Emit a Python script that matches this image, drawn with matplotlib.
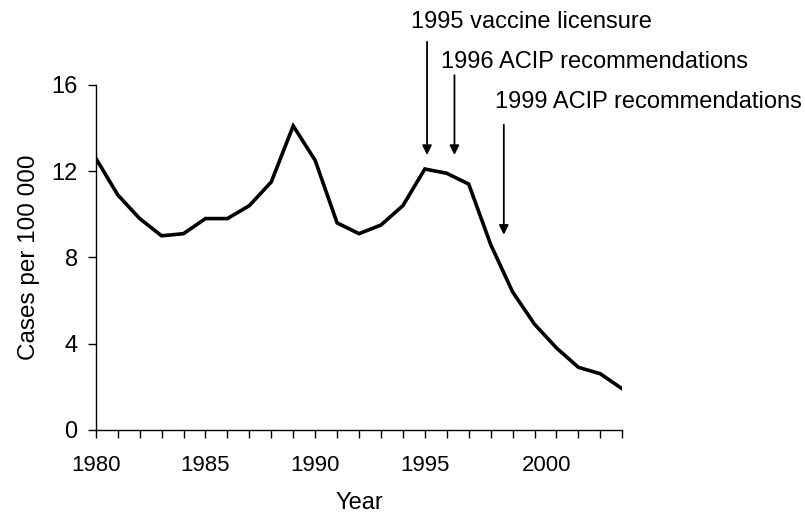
"""Hepatitis A incidence, 1980-2004, with vaccine milestones."""

import matplotlib

matplotlib.use("Agg")

import matplotlib.pyplot as plt
import matplotlib.transforms as mtransforms
from matplotlib.ticker import MultipleLocator

plt.rcParams["font.family"] = ["Liberation Sans", "DejaVu Sans"]

years = list(range(1980, 2005))
rates = [
    12.6, 10.9, 9.8, 9.0, 9.1, 9.8, 9.8, 10.4, 11.5, 14.1,
    12.5, 9.6, 9.1, 9.5, 10.4, 12.1, 11.9, 11.4, 8.6, 6.4,
    4.9, 3.8, 2.9, 2.6, 1.9,
]

# events: label, arrow x, arrow tip y, arrow tail y, text x, text y
event_labels = [
    "1995 vaccine licensure",
    "1996 ACIP recommendations",
    "1999 ACIP recommendations",
]
event_arrow_x = [1995.1, 1996.35, 1998.6]
event_tip_y = [12.75, 12.75, 9.05]
event_tail_y = [18.0, 16.45, 14.15]
event_text_x = [1994.35, 1995.75, 1998.2]
event_text_y = [18.9, 17.05, 15.2]

fig = plt.figure(figsize=(8.05, 5.21), dpi=100)
ax = fig.add_axes([0.119, 0.175, 0.654, 0.662])

ax.plot(years, rates, color="black", linewidth=2.6, solid_joinstyle="miter")

for label, ax_x, tip, tail, tx, ty in zip(
    event_labels, event_arrow_x, event_tip_y, event_tail_y,
    event_text_x, event_text_y,
):
    ax.annotate(
        "",
        xy=(ax_x, tip),
        xytext=(ax_x, tail),
        arrowprops=dict(arrowstyle="-|>", color="black", lw=1.3,
                        mutation_scale=14, shrinkA=0, shrinkB=0),
        annotation_clip=False,
    )
    ax.text(tx, ty, label, fontsize=17, ha="left", va="center",
            clip_on=False)

ax.set_xlim(1980, 2004)
ax.set_ylim(0, 16)
ax.xaxis.set_major_locator(MultipleLocator(5))
ax.xaxis.set_minor_locator(MultipleLocator(1))
ax.set_yticks([0, 4, 8, 12, 16])

for side in ("top", "right"):
    ax.spines[side].set_visible(False)
for side in ("left", "bottom"):
    ax.spines[side].set_linewidth(1.0)

ax.tick_params(axis="both", which="both", direction="out", width=1.0,
               length=6)
ax.tick_params(axis="x", labelsize=16, pad=12)
ax.tick_params(axis="y", labelsize=17, pad=7)

# the 2000 label sits a little right of its tick in the original
fig.canvas.draw()
for tick in ax.xaxis.get_major_ticks():
    if tick.get_loc() == 2000:
        tick.label1.set_transform(
            tick.label1.get_transform()
            + mtransforms.ScaledTranslation(12 / 100, 0, fig.dpi_scale_trans)
        )

ax.set_xlabel("Year", fontsize=17, labelpad=12)
ax.set_ylabel("Cases per 100 000", fontsize=17.5, labelpad=8)

fig.savefig("out.png", dpi=100)
